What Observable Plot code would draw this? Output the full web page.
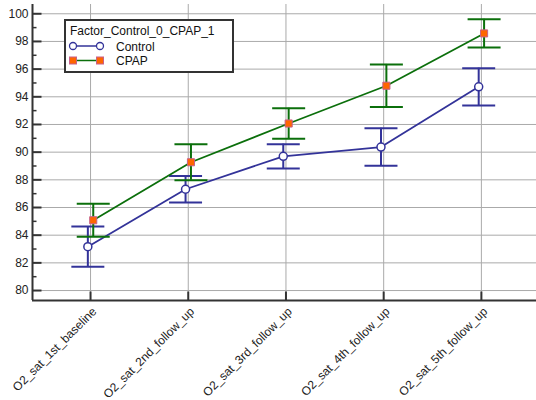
<!DOCTYPE html>
<html>
<head>
<meta charset="utf-8">
<script src="https://cdn.jsdelivr.net/npm/d3@7"></script>
<script src="https://cdn.jsdelivr.net/npm/@observablehq/plot@0.6"></script>
<style>
  html, body { margin: 0; padding: 0; background: #fff; }
  #wrap { position: relative; width: 536px; height: 400px; font-family: "Liberation Sans", Arial, sans-serif; }
  #legend { position: absolute; left: 64px; top: 19px; width: 166px; height: 50px; border: 2px solid #333; background: #fff; }
  #legend svg { display: block; }
</style>
</head>
<body>
<div id="wrap"></div>
<script>
// Time points of the oxygen saturation measurements
const categories = [
  "O2_sat_1st_baseline",
  "O2_sat_2nd_follow_up",
  "O2_sat_3rd_follow_up",
  "O2_sat_4th_follow_up",
  "O2_sat_5th_follow_up"
];

// Group means and error-bar half widths
const controlMean = [83.17, 87.32, 89.70, 90.37, 94.72];
const controlErr  = [1.45, 0.96, 0.88, 1.36, 1.35];
const cpapMean    = [85.08, 89.27, 92.07, 94.80, 98.58];
const cpapErr     = [1.19, 1.30, 1.10, 1.54, 1.02];

// Axis ticks
const majorTicks = [80, 82, 84, 86, 88, 90, 92, 94, 96, 98, 100];
const minorTicks = [81, 83, 85, 87, 89, 91, 93, 95, 97, 99];

const legendTitle = "Factor_Control_0_CPAP_1";

const FONT = "Liberation Sans, Arial, sans-serif";
const yLo = 79.28, yHi = 100.67;
const xLo = -0.594, xHi = 4.564;
const idx = categories.map((_, i) => i);

const series = [
  {name: "Control", means: controlMean, errs: controlErr, color: "#333399", dx: -2.7},
  {name: "CPAP", means: cpapMean, errs: cpapErr, color: "#0b6f0b", dx: 2.7}
];

// Small path symbols for caps and inward axis ticks
const hSeg = (a, b) => ({draw(ctx) { ctx.moveTo(a, 0); ctx.lineTo(b, 0); }});
const vSeg = (a, b) => ({draw(ctx) { ctx.moveTo(0, a); ctx.lineTo(0, b); }});
const cap = hSeg(-16.5, 16.5);

const gridColor = "#aaaaaa";
const axisColor = "#333333";

const marks = [
  Plot.ruleY(majorTicks, {y: d => d, stroke: gridColor, strokeWidth: 1}),
  Plot.ruleX(idx, {x: d => d, stroke: gridColor, strokeWidth: 1})
];

for (const s of series) {
  const data = idx.map(i => ({i, mean: s.means[i], lo: s.means[i] - s.errs[i], hi: s.means[i] + s.errs[i]}));
  marks.push(
    Plot.ruleX(data, {x: "i", y1: "lo", y2: "hi", stroke: s.color, strokeWidth: 2, dx: s.dx}),
    Plot.dot(data, {x: "i", y: "lo", symbol: cap, fill: "none", stroke: s.color, strokeWidth: 2, dx: s.dx}),
    Plot.dot(data, {x: "i", y: "hi", symbol: cap, fill: "none", stroke: s.color, strokeWidth: 2, dx: s.dx}),
    Plot.line(data, {x: "i", y: "mean", stroke: s.color, strokeWidth: 1.8, dx: s.dx})
  );
  s.data = data;
}

marks.push(
  Plot.dot(series[0].data, {x: "i", y: "mean", symbol: "circle", r: 4, fill: "#fff", stroke: series[0].color, strokeWidth: 1.5, dx: series[0].dx}),
  Plot.dot(series[1].data, {x: "i", y: "mean", symbol: "square", r: 4, fill: "#ff6600", stroke: "#c8608a", strokeWidth: 1, dx: series[1].dx}),
  // axis lines
  Plot.ruleX([xLo], {x: d => d, stroke: axisColor, strokeWidth: 2}),
  Plot.ruleY([yLo], {y: d => d, stroke: axisColor, strokeWidth: 2}),
  // inward tick marks
  Plot.dot(majorTicks, {x: xLo, y: d => d, symbol: hSeg(0, 9), fill: "none", stroke: axisColor, strokeWidth: 2}),
  Plot.dot(minorTicks, {x: xLo, y: d => d, symbol: hSeg(0, 4), fill: "none", stroke: axisColor, strokeWidth: 1.5}),
  Plot.dot(idx, {x: d => d, y: yLo, symbol: vSeg(0, -9), fill: "none", stroke: axisColor, strokeWidth: 2}),
  // tick labels
  Plot.text(majorTicks, {x: xLo, y: d => d, text: d => String(d), textAnchor: "end", dx: -4, fontSize: 12, fill: "#222"}),
  Plot.text(idx, {x: d => d, y: yLo, text: d => categories[d], rotate: -45, textAnchor: "end", dx: 4, dy: 9, fontSize: 12, fill: "#222"})
);

const chart = Plot.plot({
  width: 536,
  height: 400,
  marginTop: 4,
  marginBottom: 100,
  marginLeft: 32,
  marginRight: 0,
  style: {fontFamily: FONT, background: "#fff", overflow: "visible"},
  x: {type: "linear", domain: [xLo, xHi], axis: null},
  y: {type: "linear", domain: [yLo, yHi], axis: null},
  marks
});

const wrap = document.getElementById("wrap");
wrap.appendChild(chart);

// Legend box
const legend = document.createElement("div");
legend.id = "legend";
const lsvg = d3.create("svg").attr("width", 166).attr("height", 50).style("font-family", FONT).style("font-size", "12px");
lsvg.append("text").attr("x", 4).attr("y", 14).attr("fill", "#111").text(legendTitle);
series.forEach((s, k) => {
  const cy = 25 + k * 14.5;
  lsvg.append("line").attr("x1", 7).attr("x2", 34).attr("y1", cy).attr("y2", cy).attr("stroke", s.color).attr("stroke-width", 1.5);
  for (const cx of [7, 34]) {
    if (k === 0) {
      lsvg.append("circle").attr("cx", cx).attr("cy", cy).attr("r", 3.5).attr("fill", "#fff").attr("stroke", s.color).attr("stroke-width", 1.3);
    } else {
      lsvg.append("rect").attr("x", cx - 3.5).attr("y", cy - 3.5).attr("width", 7).attr("height", 7).attr("fill", "#ff6600").attr("stroke", "#c8608a").attr("stroke-width", 1);
    }
  }
  lsvg.append("text").attr("x", 50).attr("y", cy + 4.5).attr("fill", "#111").text(s.name);
});
legend.appendChild(lsvg.node());
wrap.appendChild(legend);
</script>
</body>
</html>
